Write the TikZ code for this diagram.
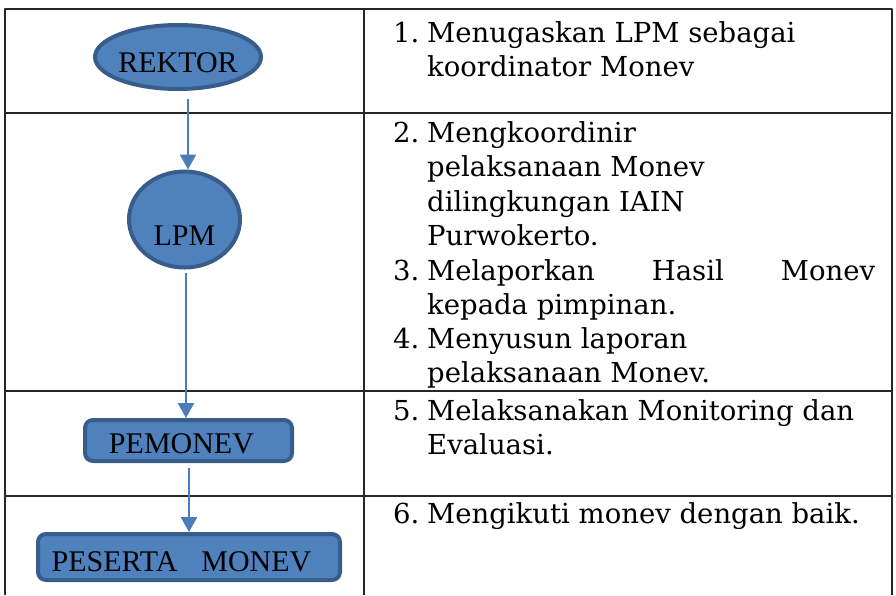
\documentclass[tikz,border=0pt]{standalone}
\usepackage{fontspec}
\setmainfont{DejaVu Serif}
\newfontfamily\timesfont{Liberation Serif}
\usepackage{tikz}
\usetikzlibrary{shapes, arrows.meta}
\definecolor{birufill}{HTML}{4F81BD}
\definecolor{birugaris}{HTML}{385D8A}
\definecolor{birupanah}{HTML}{4A7EBB}
\newcommand{\butir}[2]{\makebox[34pt][l]{#1}\begin{tabular}[t]{@{}l@{}}#2\end{tabular}}

\begin{document}
\begin{tikzpicture}[x=1pt, y=-1pt, line join=round,
    oval/.style = {draw=birugaris, fill=birufill, ellipse, line width=4pt, inner xsep=-30pt, inner ysep=0pt, font=\timesfont\fontsize{30}{36}\selectfont},
    kotak/.style = {draw=birugaris, fill=birufill, rectangle, rounded corners=8pt, line width=4pt, inner sep=0pt, font=\timesfont\fontsize{30}{36}\selectfont},
    panah/.style = {draw=birupanah, line width=2.5pt, -{Triangle[width=16pt,length=15pt]}},
    garis/.style = {line width=1.2pt, black!85},
    isi/.style = {anchor=base west, inner sep=0pt, font=\fontsize{27.5}{34.6}\selectfont}]
        \useasboundingbox (0,0) rectangle (896,595);
        \draw[garis] (5,595) -- (5,9) -- (892,9) -- (892,595);
        \draw[garis] (364,9) -- (364,595);
        \draw[garis] (5,113) -- (892,113);
        \draw[garis] (5,391) -- (892,391);
        \draw[garis] (5,496) -- (892,496);
        \node[oval, minimum width=166pt, minimum height=64pt, text height=30pt, text depth=0pt] (rektor) at (178,57) {REKTOR};
        \node[oval, minimum width=111pt, minimum height=96pt, text height=51pt, text depth=0pt] (lpm) at (184.5,219.5) {LPM};
        \node[kotak, minimum width=207pt, minimum height=41pt, text height=25.6pt, text depth=0pt] (pemonev) at (188.5,440.5) {PEMONEV\hspace*{14pt}};
        \node[kotak, minimum width=302pt, minimum height=46pt, text height=29.4pt, text depth=0pt] (peserta) at (189,557) {PESERTA\hspace{24pt}MONEV\hspace*{15pt}};
        \draw[panah] ([shift={(10,8)}]rektor.south) coordinate (a1) -- (a1 |- lpm.north);
        \draw[panah] ([shift={(1.5,3)}]lpm.south) coordinate (a2) -- (a2 |- pemonev.north);
        \draw[panah] ([shift={(0.5,5)}]pemonev.south) coordinate (a3) -- (a3 |- peserta.north);
        \node[isi] (t1) at (393,42) {\butir{1.}{Menugaskan LPM sebagai\\koordinator Monev}};
        \node[isi] (t2) at (393,142) {\butir{2.}{Mengkoordinir\\pelaksanaan Monev\\dilingkungan IAIN\\Purwokerto.}};
        \node[isi] (t3) at (393,280) {\butir{3.}{\makebox[448pt][l]{Melaporkan\hfill Hasil\hfill Monev}\\kepada pimpinan.}};
        \node[isi] (t4) at (393,348) {\butir{4.}{Menyusun laporan\\pelaksanaan Monev.}};
        \node[isi] (t5) at (393,420) {\butir{5.}{Melaksanakan Monitoring dan\\Evaluasi.}};
        \node[isi] (t6) at (393,523) {\butir{6.}{Mengikuti monev dengan baik.}};
    \end{tikzpicture}
\end{document}
